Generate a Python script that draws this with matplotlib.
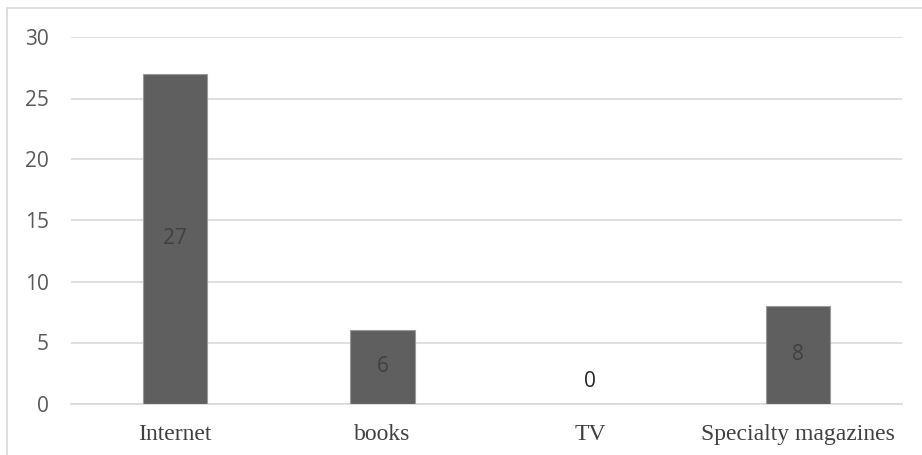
import matplotlib.pyplot as plt
from matplotlib.patches import Rectangle

categories = ["Internet", "books", "TV", "Specialty magazines"]
counts = [27, 6, 0, 8]
y_ticks = [0, 5, 10, 15, 20, 25, 30]

fig = plt.figure(figsize=(9.22, 4.55), dpi=100)
ax = fig.add_axes([71 / 922, 1 - 403.5 / 455, (902 - 71) / 922, (403.5 - 37.5) / 455])

# light grey outer frame, cut at right and bottom like the source
fig.patches.append(Rectangle((7 / 922, -0.05), 1.1, 1 - 8 / 455 + 0.05,
                             transform=fig.transFigure, fill=False,
                             edgecolor="#d9d9d9", linewidth=1.2))

x = range(len(categories))
bars = ax.bar(x, counts, width=0.31, color="#5f5f5f", edgecolor="#9a9a9a",
              linewidth=0.8, zorder=3)

for xi, v in zip(x, counts):
    if v > 0:
        ax.text(xi, v / 2, str(v), ha="center", va="center", fontsize=15,
                family="Open Sans", color="#404040", zorder=4)
    else:
        ax.text(xi, 1.8, str(v), ha="center", va="center", fontsize=15,
                family="Open Sans", color="#262626", zorder=4)

ax.set_xlim(-0.5, len(categories) - 0.5)
ax.set_ylim(0, 30)
ax.set_yticks(y_ticks)
ax.set_xticks(list(x))
ax.set_xticklabels(categories, family="Liberation Serif", fontsize=17, color="#404040")
for lbl in ax.get_yticklabels():
    lbl.set_family("Open Sans")
    lbl.set_fontsize(15)
    lbl.set_color("#595959")

ax.yaxis.grid(True, color="#d9d9d9", linewidth=1.2, zorder=0)
ax.tick_params(axis="y", length=0, pad=16)
ax.tick_params(axis="x", length=0, pad=15)
for s in ["top", "right", "left"]:
    ax.spines[s].set_visible(False)
ax.spines["bottom"].set_color("#d9d9d9")
ax.spines["bottom"].set_linewidth(1.2)

fig.savefig("out.png", dpi=100)
